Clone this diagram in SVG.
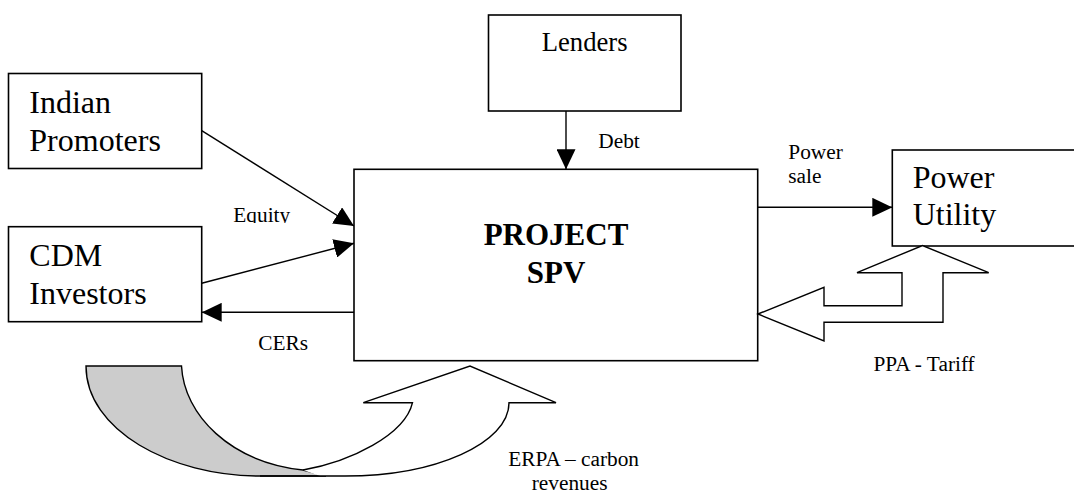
<svg xmlns="http://www.w3.org/2000/svg" width="1074" height="493" viewBox="0 0 1074 493">
  <style>
    .box { fill: #ffffff; stroke: #000000; stroke-width: 1.6; }
    .big { font-family: "Liberation Serif", "Times New Roman", serif; font-size: 32px; fill: #000; }
    .mid { font-family: "Liberation Serif", "Times New Roman", serif; font-size: 26.67px; fill: #000; }
    .bold { font-family: "Liberation Serif", "Times New Roman", serif; font-size: 31px; font-weight: bold; fill: #000; }
    .lbl { font-family: "Liberation Serif", "Times New Roman", serif; font-size: 21.33px; fill: #000; }
    .conn { fill: none; stroke: #000; stroke-width: 1.4; marker-end: url(#ah); }
    .block { fill: #ffffff; stroke: #000; stroke-width: 1.4; stroke-linejoin: miter; }
    .ln { fill: none; stroke: #000; stroke-width: 1.4; }
  </style>
  <defs>
    <marker id="ah" viewBox="0 0 20 19" refX="20" refY="9.5" markerWidth="20" markerHeight="19" markerUnits="userSpaceOnUse" orient="auto">
      <path d="M0,0 L20,9.5 L0,19 Z" fill="#000"/>
    </marker>
    <clipPath id="eqclip">
      <rect x="220" y="195" width="90" height="28"/>
    </clipPath>
  </defs>

  <rect width="1074" height="493" fill="#ffffff"/>

  <g id="connectors">
    <line class="conn" x1="201.7" y1="130.7" x2="354" y2="226"/>
    <line class="conn" x1="201.7" y1="283.3" x2="354" y2="243.3"/>
    <line class="conn" x1="354" y1="312.3" x2="201.7" y2="312.3"/>
    <line class="conn" x1="566" y1="111" x2="566" y2="169.3"/>
    <line class="conn" x1="758" y1="207.3" x2="892.3" y2="207.3"/>
    <text class="lbl" x="233.3" y="221.7" clip-path="url(#eqclip)">Equity</text>
    <text class="lbl" x="598.3" y="147.7">Debt</text>
    <text class="lbl" x="788.3" y="159.3">Power</text>
    <text class="lbl" x="788.3" y="183.3">sale</text>
    <text class="lbl" x="258.3" y="350">CERs</text>
  </g>

  <g id="lenders">
    <rect class="box" x="488.5" y="15" width="192.5" height="96"/>
    <text class="mid" x="541.7" y="50.7">Lenders</text>
  </g>

  <g id="indian-promoters">
    <rect class="box" x="8.5" y="73.5" width="193.2" height="95"/>
    <text class="big" x="29.3" y="113.3">Indian</text>
    <text class="big" x="29.3" y="150.7">Promoters</text>
  </g>

  <g id="cdm-investors">
    <rect class="box" x="8.5" y="226.7" width="193.2" height="95"/>
    <text class="big" x="29.3" y="266">CDM</text>
    <text class="big" x="29.3" y="304">Investors</text>
  </g>

  <g id="project-spv">
    <rect class="box" x="354" y="169.3" width="403.7" height="191.4"/>
    <text class="bold" x="556" y="245" text-anchor="middle">PROJECT</text>
    <text class="bold" x="556" y="283.3" text-anchor="middle">SPV</text>
  </g>

  <g id="power-utility">
    <rect class="box" x="892.3" y="150" width="200" height="96"/>
    <text class="big" x="912.7" y="188.3">Power</text>
    <text class="big" x="912.7" y="225">Utility</text>
  </g>

  <g id="ppa-tariff">
    <path class="block" d="M758,314 L824,287.3 L824,305.7 L902,305.7 L902,272.7 L857,272.7 L922.5,245.5 L988.7,272.7 L943,272.7 L943,322.3 L824,322.3 L824,341 Z"/>
    <text class="lbl" x="873.5" y="370.7">PPA - Tariff</text>
  </g>

  <g id="erpa-carbon">
    <path d="M86,366 L181.5,366 C184,415 230,462 303,470 Q315,473 326,476 L260,476 C170,476 86,430 86,366 Z" fill="#cccccc" stroke="#000" stroke-width="1.4"/>
    <path d="M303,470 C350,462 405,435 412.5,402.7 L363.3,402.7 L470,366 L556,402.7 L509,402.7 C509,443.2 435.5,476 345,476 L320,476 Z" fill="#ffffff" stroke="none"/>
    <path class="ln" d="M260,476 L345,476 C435.5,476 509,443.2 509,402.7 L556,402.7 L470,366 L363.3,402.7 L412.5,402.7 C405,435 350,462 303,470"/>
    <text class="lbl" x="508.3" y="466">ERPA – carbon</text>
    <text class="lbl" x="531.7" y="489.5">revenues</text>
  </g>
</svg>
